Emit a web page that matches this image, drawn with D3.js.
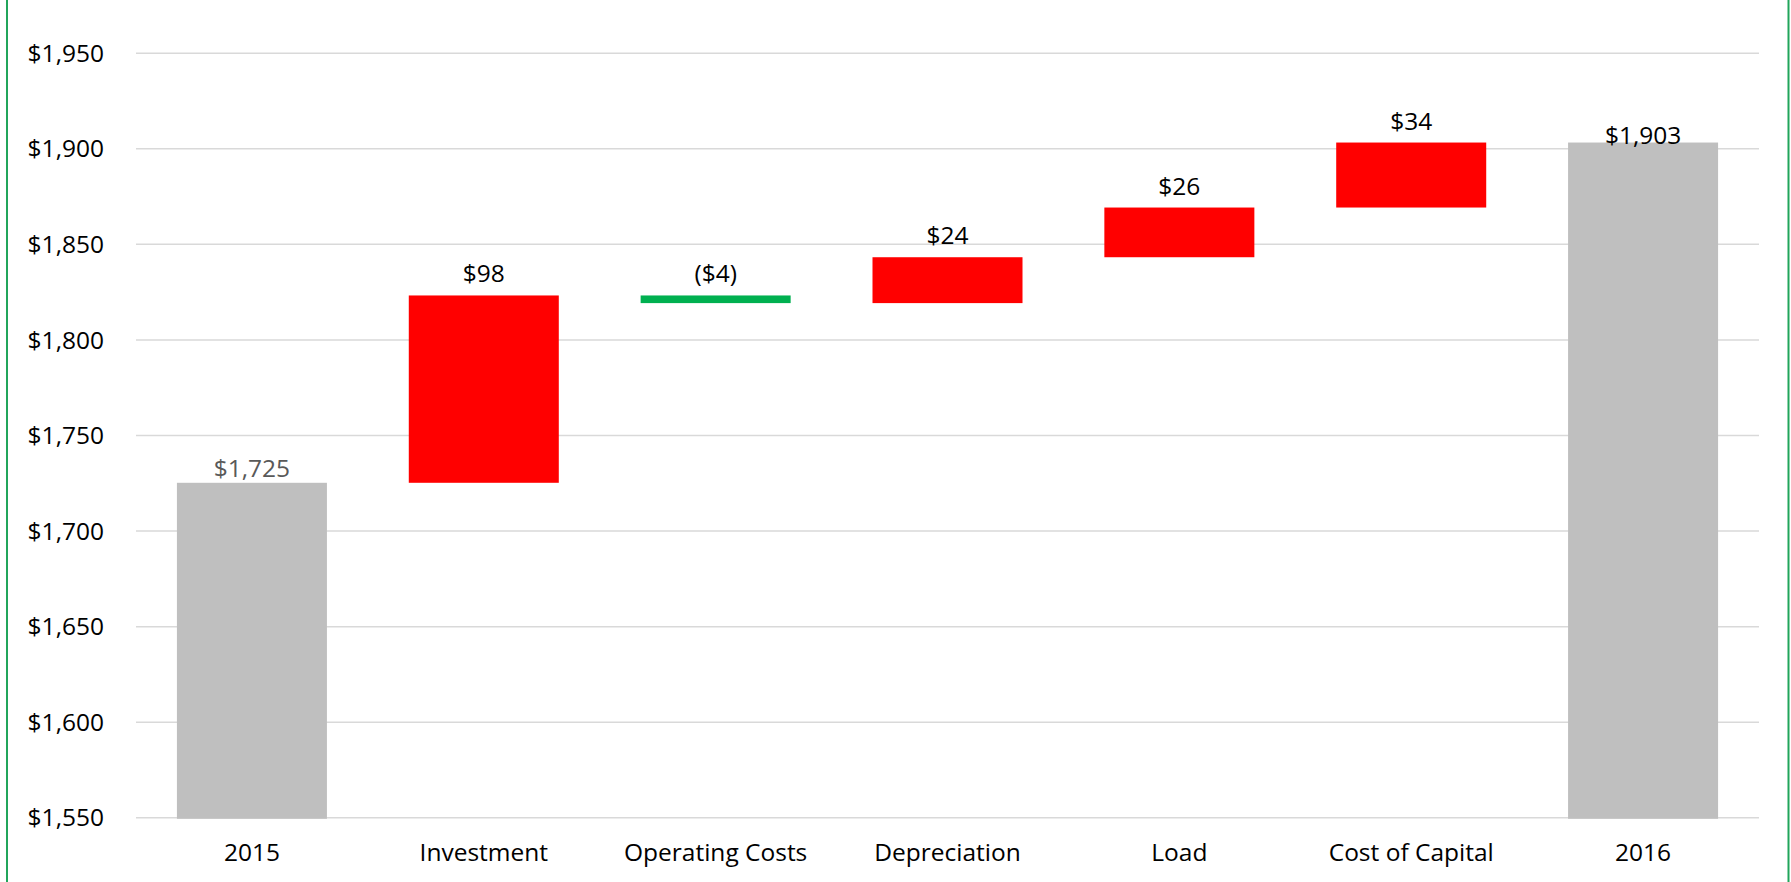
<!DOCTYPE html>
<html>
<head>
<meta charset="utf-8">
<script src="https://cdn.jsdelivr.net/npm/d3@7"></script>
<style>
  html, body { margin: 0; padding: 0; background: #fff; }
  svg { display: block; }
  text { font-family: "Open Sans", "Noto Sans", sans-serif; }
</style>
</head>
<body>
<svg id="chart" width="1791" height="882"></svg>
<script>
// ---- data ----
const categories = ["2015", "Investment", "Operating Costs", "Depreciation", "Load", "Cost of Capital", "2016"];
const kinds      = ["total", "delta", "delta", "delta", "delta", "delta", "total"];
const values     = [1725, 98, -4, 24, 26, 34, 1903];
const labels     = ["$1,725", "$98", "($4)", "$24", "$26", "$34", "$1,903"];
const yTicks     = [1550, 1600, 1650, 1700, 1750, 1800, 1850, 1900, 1950];

// ---- build waterfall rows ----
let running = 0;
const rows = categories.map((c, i) => {
  let lo, hi;
  if (kinds[i] === "total") {
    lo = 1550; hi = values[i]; running = values[i];
  } else {
    const start = running, end = running + values[i];
    lo = Math.min(start, end); hi = Math.max(start, end);
    running = end;
  }
  return { cat: c, kind: kinds[i], value: values[i], lo, hi, label: labels[i], idx: i };
});

const svg = d3.select("#chart");
const W = 1791, H = 882;
const m = { left: 136, right: W - 1759, top: 52.7, bottom: H - 817.3 };
const FS = 24.5;

const x = d3.scaleBand().domain(categories).range([m.left, W - m.right]).paddingInner(0.353).paddingOuter(0.1765);
const y = d3.scaleLinear().domain([1550, 1950]).range([H - m.bottom, m.top]);

// border lines
svg.append("line").attr("x1", 7).attr("x2", 7).attr("y1", 0).attr("y2", H).attr("stroke", "#21A55B").attr("stroke-width", 2);
svg.append("line").attr("x1", 1788.5).attr("x2", 1788.5).attr("y1", 0).attr("y2", H).attr("stroke", "#21A55B").attr("stroke-width", 2);

// gridlines + y labels via axis
const yAxis = d3.axisLeft(y).tickValues(yTicks).tickSize(-(W - m.left - m.right)).tickPadding(32)
  .tickFormat(d => "$" + d3.format(",")(d));
const gy = svg.append("g").attr("transform", `translate(${m.left},0)`).call(yAxis);
gy.select(".domain").remove();
gy.selectAll(".tick line").attr("stroke", "#D9D9D9").attr("stroke-width", 1.5);
gy.selectAll(".tick text").attr("fill", "#000").attr("font-size", FS).attr("dy", "0.35em")
  .style("font-family", "'Open Sans', sans-serif");

// bars
const color = r => r.kind === "total" ? "#BFBFBF" : (r.value < 0 ? "#00B050" : "#FF0000");
svg.append("g").selectAll("rect").data(rows).join("rect")
  .attr("x", d => x(d.cat))
  .attr("width", x.bandwidth())
  .attr("y", d => y(d.hi))
  .attr("height", d => Math.max(y(d.lo) - y(d.hi) + (d.kind === "total" ? 1.5 : 0), 1))
  .attr("fill", color);

// value labels
svg.append("g").selectAll("text").data(rows).join("text")
  .attr("x", d => x(d.cat) + x.bandwidth() / 2)
  .attr("y", d => {
    if (d.kind === "total") return d.idx === 0 ? y(d.hi) - 6 : y(d.hi) + 1.5;
    return y(d.hi) - 13;
  })
  .attr("text-anchor", "middle")
  .attr("font-size", FS)
  .attr("fill", d => d.idx === 0 ? "#595959" : "#000")
  .text(d => d.label);

// x axis labels
const xAxis = d3.axisBottom(x).tickSize(0).tickPadding(26);
const gx = svg.append("g").attr("transform", `translate(0,${H - m.bottom})`).call(xAxis);
gx.select(".domain").remove();
gx.selectAll(".tick text").attr("fill", "#000").attr("font-size", FS)
  .style("font-family", "'Open Sans', sans-serif");
</script>
</body>
</html>
